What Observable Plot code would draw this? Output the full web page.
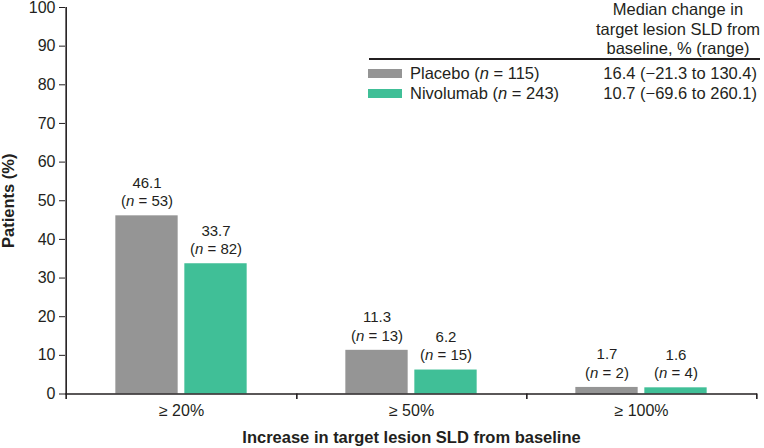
<!DOCTYPE html>
<html>
<head>
<meta charset="utf-8">
<script src="https://cdn.jsdelivr.net/npm/d3@7"></script>
<script src="https://cdn.jsdelivr.net/npm/@observablehq/plot@0.6"></script>
<style>
  html, body { margin: 0; padding: 0; background: #fff; }
  #wrap { position: relative; width: 764px; height: 448px; font-family: "Liberation Sans", Arial, sans-serif; color: #231f20; }
  #wrap svg { display: block; }
  [aria-label="x-axis label"], [aria-label="y-axis label"] { font-weight: bold; font-size: 16.5px; }
  #legend { position: absolute; left: 0; top: 0; width: 764px; height: 110px; font-size: 16.5px; pointer-events: none; }
  #legend .hdr { position: absolute; left: 578px; width: 200px; top: 0px; text-align: center; line-height: 19.6px; white-space: nowrap; }
  #legend .rule { position: absolute; left: 369px; width: 391px; top: 58px; height: 2px; background: #231f20; }
  #legend .sw { position: absolute; left: 368px; width: 34px; height: 9px; }
  #legend .lab { position: absolute; left: 410px; white-space: nowrap; line-height: 20px; }
  #legend .val { position: absolute; right: 7px; white-space: nowrap; line-height: 20px; text-align: right; }
</style>
</head>
<body>
<div id="wrap"></div>
<script>
// ---- data ----
const groups = ["≥ 20%", "≥ 50%", "≥ 100%"];
const placeboPct = [46.1, 11.3, 1.7];
const nivoPct = [33.7, 6.2, 1.6];
const placeboN = [53, 13, 2];
const nivoN = [82, 15, 4];
const yTicks = [0, 10, 20, 30, 40, 50, 60, 70, 80, 90, 100];
const seriesNames = ["Placebo", "Nivolumab"];
const seriesTotals = [115, 243];
const seriesMedian = ["16.4 (−21.3 to 130.4)", "10.7 (−69.6 to 260.1)"];
const legendHeader = ["Median change in", "target lesion SLD from", "baseline, % (range)"];
const colors = ["#959595", "#40bf97"];

// ---- layout ----
const W = 764, H = 448, mL = 65, mR = 7, mT = 7, mB = 54.5;
const band = (W - mL - mR) / groups.length;
const barW = 63, gap = 6;
const inSmall = (band - 2 * barW - gap) / 2;
const inBig = inSmall + barW + gap;
const off = (barW + gap) / 2;

const placebo = groups.map((g, i) => ({group: g, value: placeboPct[i], n: placeboN[i]}));
const nivo = groups.map((g, i) => ({group: g, value: nivoPct[i], n: nivoN[i]}));
const ink = "#231f20";

function labels(data, dx) {
  return [
    Plot.text(data, {x: "group", y: "value", text: d => d.value.toFixed(1), dx, dy: -33, lineAnchor: "middle", fontSize: 15, fill: ink}),
    Plot.text(data, {x: "group", y: "value", text: d => `(n = ${d.n})`, dx, dy: -14.5, lineAnchor: "middle", fontSize: 15, fill: ink})
  ];
}

const chart = Plot.plot({
  width: W, height: H,
  marginLeft: mL, marginRight: mR, marginTop: mT, marginBottom: mB,
  style: {fontFamily: '"Liberation Sans", Arial, sans-serif', fontSize: "16px", color: ink, background: "#fff"},
  x: {type: "band", domain: groups, padding: 0, label: null},
  y: {domain: [0, 100], label: null},
  marks: [
    Plot.barY(placebo, {x: "group", y: "value", fill: colors[0], insetLeft: inSmall, insetRight: inBig}),
    Plot.barY(nivo, {x: "group", y: "value", fill: colors[1], insetLeft: inBig, insetRight: inSmall}),
    ...labels(placebo, -off),
    ...labels(nivo, off),
    Plot.ruleY([0], {stroke: ink, strokeWidth: 1.6}),
    Plot.ruleX([groups[0]], {dx: -band / 2, y1: -1.4, y2: 100, stroke: ink, strokeWidth: 1.6}),
    Plot.ruleX(groups, {dx: band / 2, y1: -1.4, y2: 0, stroke: ink, strokeWidth: 1.6}),
    Plot.axisY({ticks: yTicks, tickSize: 6, tickPadding: 4, stroke: ink, fill: ink, fontSize: 16,
      label: "Patients (%)", labelAnchor: "center", labelArrow: "none", labelOffset: 63}),
    Plot.axisX({tickSize: 0, tickPadding: 11, fill: ink, fontSize: 16,
      label: "Increase in target lesion SLD from baseline", labelAnchor: "center", labelArrow: "none", labelOffset: 49})
  ]
});

// italic "n" in the count labels
chart.querySelectorAll("text").forEach(t => {
  const s = t.textContent;
  const m = /^\(n = (.*)\)$/.exec(s);
  if (m) {
    const tgt = t.querySelector("tspan") || t;
    tgt.innerHTML = `(<tspan font-style="italic">n</tspan> = ${m[1]})`;
  }
});

const wrap = document.getElementById("wrap");
wrap.appendChild(chart);

// legend table (overlay)
const leg = document.createElement("div");
leg.id = "legend";
let html = `<div class="hdr">${legendHeader.join("<br>")}</div><div class="rule"></div>`;
seriesNames.forEach((name, i) => {
  const cy = 73 + i * 20;
  html += `<div class="sw" style="top:${cy - 4.5}px;background:${colors[i]}"></div>`;
  html += `<div class="lab" style="top:${cy - 10}px">${name} (<i>n</i> = ${seriesTotals[i]})</div>`;
  html += `<div class="val" style="top:${cy - 10}px">${seriesMedian[i]}</div>`;
});
leg.innerHTML = html;
wrap.appendChild(leg);
</script>
</body>
</html>
